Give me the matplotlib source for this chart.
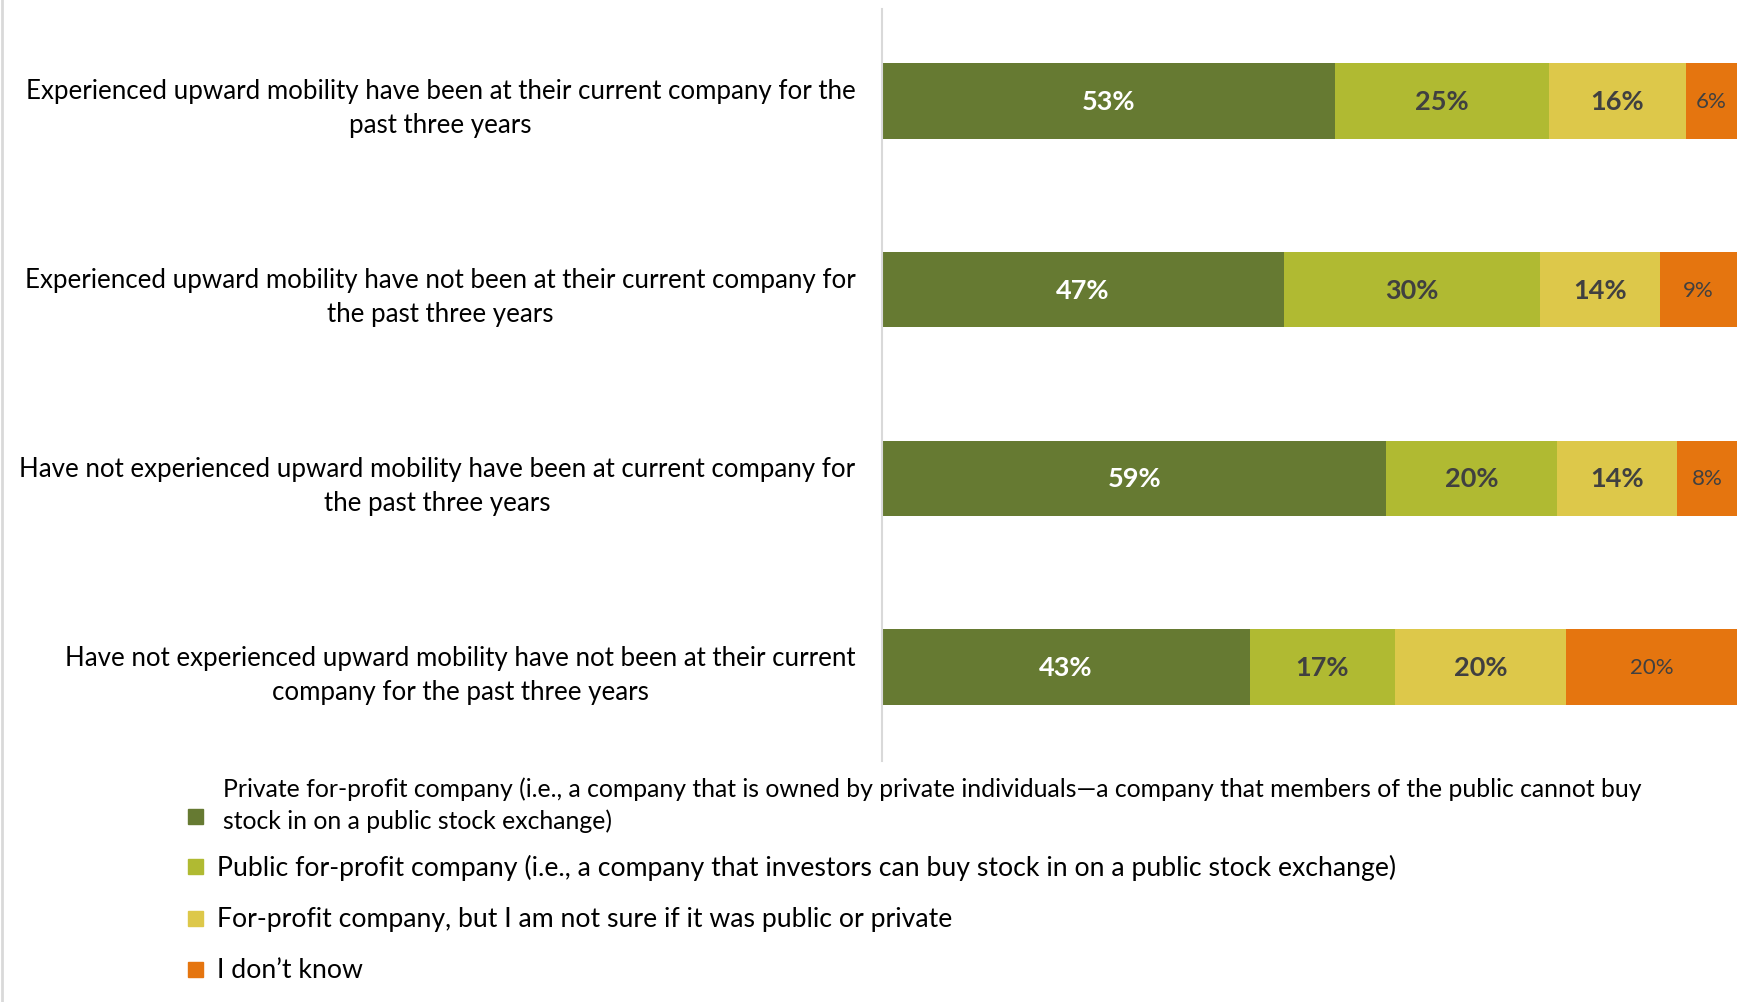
import matplotlib
matplotlib.use("Agg")
import matplotlib.pyplot as plt
from matplotlib.lines import Line2D
from matplotlib.patches import Rectangle

plt.rcParams["font.family"] = ["Lato", "DejaVu Sans"]

W, H = 1737, 1003

groups = [
    "Experienced upward mobility have been at their current company for the\npast three years",
    "Experienced upward mobility have not been at their current company for\nthe past three years",
    "Have not experienced upward mobility have been at current company for\nthe past three years",
    "Have not experienced upward mobility have not been at their current\ncompany for the past three years",
]
series = [
    "Private for-profit company (i.e., a company that is owned by private individuals\u2014a company that members of the public cannot buy\nstock in on a public stock exchange)",
    "Public for-profit company (i.e., a company that investors can buy stock in on a public stock exchange)",
    "For-profit company, but I am not sure if it was public or private",
    "I don\u2019t know",
]
private = [53, 47, 59, 43]
public = [25, 30, 20, 17]
unsure = [16, 14, 14, 20]
dont_know = [6, 9, 8, 20]
values = [private, public, unsure, dont_know]
colors = ["#667A32", "#B0BA32", "#DDC84A", "#E5750F"]


def fx(px):
    return px / W


def fy(py):
    return 1 - py / H


fig = plt.figure(figsize=(W / 100, H / 100), dpi=100)
ax = fig.add_axes([fx(882), fy(762), fx(1737) - fx(882), fy(10) - fy(762)])

ypos = list(range(len(groups)))
left = [0] * len(groups)
for i, (vals, c) in enumerate(zip(values, colors)):
    ax.barh(ypos, vals, left=left, height=0.40, color=c, edgecolor="none")
    for y, v, l in zip(ypos, vals, left):
        if i == len(values) - 1:
            # last segment runs past the right edge, centre on the visible part
            cx = (l + min(l + v, 100)) / 2
            ax.text(cx, y, f"{v}%", ha="center", va="center",
                    fontsize=16, color="#404040")
        else:
            ax.text(l + v / 2, y, f"{v}%", ha="center", va="center",
                    fontsize=19.5, fontweight="bold",
                    color="white" if i == 0 else "#404040")
    left = [a + b for a, b in zip(left, vals)]

ax.set_xlim(0, 100)
ax.set_ylim(3.497, -0.487)
ax.set_xticks([])
ax.set_yticks(ypos, labels=groups, fontsize=18.6, multialignment="center",
              linespacing=1.45)
ax.tick_params(axis="y", length=0, pad=19)
for s in ["top", "right", "bottom"]:
    ax.spines[s].set_visible(False)
ax.spines["left"].set_color("#D9D9D9")
ax.spines["left"].set_linewidth(1.5)

# legend
leg_y = [818, 868, 920, 971]
text_x = [223, 217, 217, 217]
leg_fs = [17.8, 19.2, 19.2, 19.2]
for lab, c, y, tx, fs in zip(series, colors, leg_y, text_x, leg_fs):
    fig.add_artist(Rectangle((fx(188), fy(y + 7)), fx(15), 15 / H,
                             transform=fig.transFigure, color=c))
    ty = 805 if "\n" in lab else y
    fig.text(fx(tx), fy(ty), lab, ha="left", va="center", fontsize=fs,
             color="black", linespacing=1.4)

# left border
fig.add_artist(Line2D([fx(2), fx(2)], [0, 1], color="#D9D9D9", lw=2,
                      transform=fig.transFigure))

fig.savefig("out.png", dpi=100)
